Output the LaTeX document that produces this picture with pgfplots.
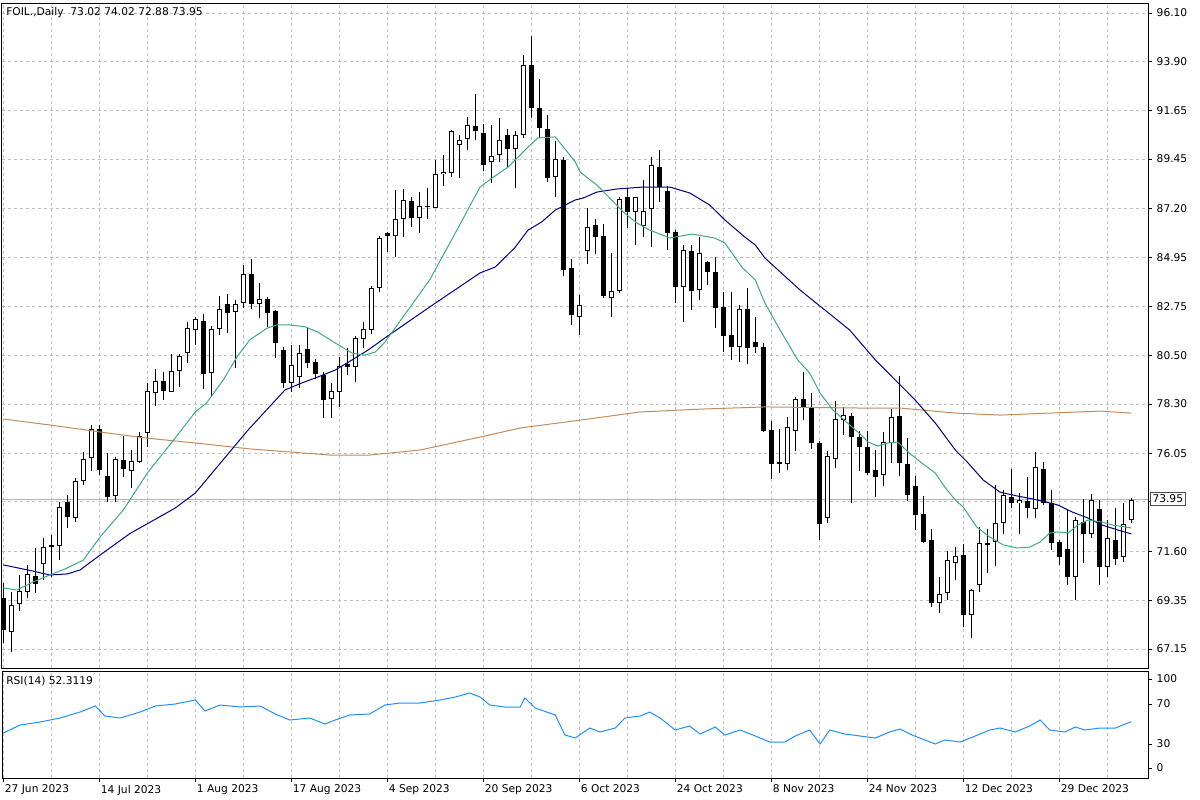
\documentclass[border=0pt]{standalone}
\usepackage{pgfplots}
\pgfplotsset{compat=1.18}
\usepackage{pgfplotstable}
\usepackage{fontspec}
\setmainfont{DejaVu Sans}

\definecolor{gridc}{RGB}{192,192,192}
\definecolor{bidc}{RGB}{180,180,180}
\definecolor{maFast}{RGB}{60,170,130}
\definecolor{maMid}{RGB}{0,0,128}
\definecolor{maSlow}{RGB}{196,140,90}
\definecolor{rsic}{RGB}{30,144,255}

% daily bars: index, open, high, low, close
\pgfplotstableread{
k o h l c
0 69.46 70.14 67.44 68.02
1 67.94 69.76 67.03 69.15
2 69.18 70.52 68.90 69.79
3 69.76 70.97 69.46 70.57
4 70.47 71.73 69.69 70.10
5 71.01 72.19 70.29 71.79
6 71.78 72.34 70.44 71.87
7 71.85 73.86 71.20 73.63
8 73.83 74.16 72.64 73.17
9 73.13 74.92 72.95 74.80
10 74.78 76.13 74.62 75.81
11 75.83 77.35 75.25 77.17
12 77.15 77.33 75.07 75.30
13 75.03 76.06 73.86 74.09
14 74.12 75.91 73.86 75.79
15 75.75 76.85 75.00 75.36
16 75.27 76.21 74.47 75.69
17 75.68 77.04 75.60 76.86
18 76.97 79.24 76.36 78.88
19 78.82 79.88 78.23 79.34
20 79.34 79.75 78.49 78.91
21 78.87 80.56 78.83 79.79
22 79.79 80.56 79.06 80.47
23 80.61 82.05 80.15 81.75
24 81.69 82.28 80.99 82.17
25 82.08 82.40 78.99 79.67
26 79.73 81.85 78.64 81.70
27 81.70 83.22 81.44 82.61
28 82.86 83.31 81.52 82.46
29 82.48 83.04 79.93 82.84
30 82.89 84.63 82.66 84.21
31 84.21 84.89 82.61 82.84
32 82.84 83.80 82.20 83.10
33 83.07 83.19 81.82 82.43
34 82.54 82.60 80.38 81.06
35 80.76 80.91 79.02 79.24
36 79.24 80.99 78.86 80.08
37 79.55 80.99 79.02 80.61
38 80.79 81.75 79.93 80.18
39 80.23 80.34 79.43 79.67
40 79.62 79.77 77.65 78.49
41 78.55 79.24 77.65 78.90
42 78.86 80.46 78.18 80.03
43 80.12 80.84 79.62 79.97
44 79.97 81.40 79.32 81.29
45 81.25 82.02 80.84 81.70
46 81.67 83.67 81.47 83.57
47 83.57 85.95 83.42 85.87
48 86.09 86.15 85.24 85.97
49 85.95 88.04 84.98 86.71
50 86.71 88.10 85.89 87.59
51 87.53 87.71 86.37 86.75
52 86.75 87.94 86.10 87.32
53 87.27 88.12 86.71 87.32
54 87.24 89.41 87.24 88.76
55 88.76 89.64 88.23 88.86
56 88.80 90.78 88.65 90.73
57 90.08 90.55 88.61 90.30
58 90.38 91.35 89.86 90.99
59 90.95 92.41 90.30 90.72
60 90.62 91.03 88.92 89.18
61 89.30 91.00 88.35 89.58
62 89.64 91.30 89.30 90.30
63 90.55 90.80 89.03 89.89
64 89.89 90.73 88.15 90.55
65 90.55 94.19 90.40 93.72
66 93.72 95.05 91.34 91.79
67 91.79 93.10 90.40 90.85
68 90.80 91.46 88.42 88.60
69 88.65 90.27 87.74 89.44
70 89.41 89.56 84.14 84.40
71 84.48 84.89 81.90 82.35
72 82.28 83.26 81.44 82.81
73 85.27 87.21 84.66 86.35
74 86.44 86.71 85.12 85.92
75 85.95 86.48 83.11 83.22
76 83.14 85.16 82.28 83.46
77 83.46 87.74 83.34 87.62
78 87.71 88.12 86.30 87.03
79 87.03 87.74 85.54 87.71
80 86.41 88.50 85.92 87.10
81 87.16 89.56 85.46 89.17
82 89.08 89.86 87.51 88.17
83 88.00 88.23 85.31 86.07
84 86.12 86.22 82.92 83.64
85 83.64 85.54 82.05 85.31
86 85.27 85.54 82.58 83.46
87 83.49 85.92 83.04 85.16
88 84.77 84.80 83.72 84.33
89 84.33 85.01 81.75 82.69
90 82.70 83.42 80.68 81.40
91 81.44 83.42 80.31 80.88
92 80.91 82.81 80.23 82.61
93 82.61 83.57 80.12 80.84
94 81.11 82.25 80.64 80.88
95 80.91 81.06 77.04 77.09
96 77.12 77.53 74.87 75.56
97 75.66 77.16 75.18 75.56
98 75.56 77.73 75.30 77.24
99 77.09 78.64 76.18 78.52
100 78.52 79.77 77.58 78.18
101 78.14 78.79 76.24 76.54
102 76.54 76.62 72.11 72.84
103 73.10 76.18 72.87 75.94
104 75.79 78.44 75.41 77.61
105 77.58 78.18 76.89 77.80
106 77.76 77.91 73.78 76.79
107 76.82 77.07 75.27 76.33
108 76.33 77.09 75.07 75.15
109 75.30 76.21 74.06 75.00
110 75.07 77.04 74.57 76.56
111 76.54 78.06 75.63 77.70
112 77.76 79.58 75.03 75.60
113 75.57 76.74 73.90 74.16
114 74.57 75.03 72.57 73.25
115 73.30 74.12 71.96 72.01
116 72.11 72.60 69.08 69.23
117 69.26 70.44 68.78 69.64
118 69.72 71.61 69.38 71.20
119 71.08 71.81 70.29 71.38
120 71.43 71.93 68.14 68.70
121 68.70 69.87 67.64 69.84
122 70.07 72.69 69.76 71.96
123 71.96 72.60 70.60 71.90
124 72.04 74.62 70.93 72.87
125 72.90 74.39 72.39 74.16
126 74.09 75.33 73.55 73.78
127 73.78 74.24 72.39 73.93
128 73.90 74.97 73.10 73.55
129 73.51 76.13 73.10 75.42
130 75.33 75.68 73.71 73.78
131 73.78 74.39 71.66 71.99
132 72.01 72.11 70.97 71.35
133 71.70 73.48 70.06 70.44
134 70.44 73.17 69.38 73.02
135 72.95 73.96 71.05 72.39
136 72.37 74.21 72.19 73.93
137 73.51 73.93 70.06 70.90
138 70.87 73.02 70.44 72.19
139 72.11 73.55 70.97 71.25
140 71.32 73.81 71.13 72.84
141 73.02 74.02 72.88 73.95
}\candles

\begin{document}
\begin{tikzpicture}[font=\fontsize{8}{9.6}\selectfont]
\path[use as bounding box] (0,0) rectangle (900pt,-600pt);

\pgfplotsset{
  panel/.style={
    scale only axis, width=859.5pt, anchor=north west,
    xmin=-0.1625, xmax=143.09,
    axis line style={line width=0.75pt},
    tick style={black, line width=0.75pt},
    major tick length=3pt,
    tick align=outside,
    grid style={gridc, line width=0.75pt, dash pattern=on 2.25pt off 2.25pt},
    ytick pos=right, yticklabel pos=right,
    /pgf/number format/assume math mode=true,
  },
  eb/.style={only marks, mark=*, mark size=0pt, mark options={draw=none, fill=none}, forget plot,
    error bars/.cd, y dir=both, y explicit, error mark=none,
    error bar style={#1}},
}

% price panel
\begin{axis}[panel, at={(1.5pt,-2.25pt)}, height=498.75pt,
  ymin=66.287, ymax=96.555,
  xtick={0,6,...,138}, xticklabels={}, xtick style={draw=none},
  xmajorgrids, ymajorgrids,
  ytick={67.15,69.35,71.60,73.85,76.05,78.30,80.50,82.75,84.95,87.20,89.45,91.65,93.90,96.10},
  yticklabels={67.15,69.35,71.60,{},76.05,78.30,80.50,82.75,84.95,87.20,89.45,91.65,93.90,96.10},
]
\addplot[bidc, line width=0.75pt, forget plot] coordinates {(-1,73.95) (145,73.95)};

% wicks
\addplot[eb={black, line width=0.75pt}]
  table[x=k, y expr={(\thisrow{h}+\thisrow{l})/2}, y error expr={(\thisrow{h}-\thisrow{l})/2}] {\candles};
% bodies
\addplot[eb={black, line width=3.75pt}]
  table[x=k, y expr={(\thisrow{o}+\thisrow{c})/2}, y error expr={max(abs(\thisrow{c}-\thisrow{o})/2,0.023)}] {\candles};
\addplot[eb={white, line width=2.25pt}]
  table[x=k, y expr={(\thisrow{o}+\thisrow{c})/2}, y error expr={max((\thisrow{c}-\thisrow{o})/2-0.0455,0)}] {\candles};

% moving averages
\addplot[maSlow, line width=0.75pt] coordinates {
(0,77.62) (5.8,77.35) (12.1,77.03) (17.7,76.76) (24,76.53) (30.8,76.26) (35.8,76.12)
(40.8,75.98) (45.8,75.98) (52.1,76.21) (59.6,76.80) (64.6,77.21) (72.1,77.57) (79.6,77.94)
(87.1,78.07) (95.2,78.17) (107.1,78.12) (112.1,78.12) (119,77.89) (124.6,77.80)
(130.8,77.89) (137.1,77.98) (141,77.89)};
\addplot[maMid, line width=0.75pt] coordinates {
(0,70.98) (3.7,70.70) (5.8,70.52) (8,70.57) (9.6,70.75) (12.1,71.43) (15.8,72.40) (21.5,73.57)
(24,74.25) (30.6,77.12) (35.2,78.94) (37.3,79.26) (39.3,79.53) (41.5,79.85) (43.6,80.31)
(45.6,80.76) (47.7,81.31) (53.3,82.72) (58.3,83.95) (59.6,84.27) (61.5,84.54) (63.9,85.40)
(65.6,86.22) (67.3,86.59) (69,87.13) (71.5,87.59) (72.5,87.68) (74.2,87.95) (76.7,88.09)
(80,88.18) (83.3,88.18) (85.8,87.91) (88.3,87.36) (90.2,86.68) (92.7,85.90) (94,85.54)
(95.2,84.95) (99.6,83.49) (105.8,81.67) (109,80.31) (114,78.48) (116.5,77.44) (119,76.21)
(120.5,75.66) (122.5,74.84) (124.6,74.29) (126.7,74.12) (128.7,73.98) (130.8,73.80)
(131.8,73.71) (133.6,73.39) (135.6,73.11) (137.3,72.80) (139.3,72.57) (141,72.39)};
\addplot[maFast, line width=0.75pt] coordinates {
(0,69.93) (1.7,69.84) (3.7,70.20) (5.8,70.52) (8,70.84) (10,71.20) (12.1,72.25) (15,73.48)
(18,75.16) (21,76.53) (24,77.94) (25.4,78.35) (27.5,79.40) (29.2,80.44) (30.8,81.22)
(33,81.76) (34.2,81.90) (35.8,81.90) (37.7,81.82) (39.3,81.58) (41.5,81.08) (43.6,80.62)
(45.2,80.53) (46.5,80.67) (47.7,81.12) (53.3,83.95) (56.7,86.22) (59.6,88.18) (61.1,88.59)
(63.1,89.09) (65.6,90.00) (66.8,90.41) (69,90.46) (71.5,89.32) (72.1,88.86) (74.2,88.27)
(75.8,87.68) (77.5,87.04) (79.2,86.54) (80.8,86.22) (83.3,85.86) (86.1,86.04) (88.9,85.86)
(90.2,85.63) (92.3,84.54) (94,83.95) (95.2,82.90) (97.1,81.67) (99.3,80.31) (100.8,79.71)
(102.1,78.80) (103.7,78.03) (105.8,77.35) (107.1,76.94) (108.1,76.57) (109.3,76.39)
(110.6,76.53) (111.8,76.57) (113.1,76.12) (114.8,75.62) (116.5,75.16) (117.7,74.52)
(119,73.93) (120,73.61) (121.7,72.70) (123.3,72.25) (125,71.89) (126.7,71.75) (128.3,71.79)
(129.6,72.02) (130.8,72.43) (131.8,72.48) (133.1,72.43) (134.3,72.79) (135.6,73.02)
(137.3,72.93) (138.6,72.80) (141,72.66)};
\end{axis}

% RSI panel
\begin{axis}[panel, at={(1.5pt,-503.25pt)}, height=80.25pt,
  ymin=-4, ymax=103,
  ytick={6,30,70,95}, yticklabels={0,30,70,100},
  xtick={0,12,...,132},
  xticklabels={27 Jun 2023,14 Jul 2023,1 Aug 2023,17 Aug 2023,4 Sep 2023,20 Sep 2023,6 Oct 2023,24 Oct 2023,8 Nov 2023,24 Nov 2023,12 Dec 2023,29 Dec 2023},
  xtick pos=bottom,
  xticklabel style={anchor=north west, inner sep=0pt, xshift=1pt, yshift=-2pt},
  minor xtick={6,18,...,138}, minor tick length=0pt,
  xmajorgrids, xminorgrids, minor grid style={gridc, line width=0.75pt, dash pattern=on 2.25pt off 2.25pt},
]
\addplot[rsic, line width=0.75pt] coordinates {
(0,41) (2.1,49) (4.6,52) (7.1,56) (9.6,62) (11.5,68) (12.7,58) (14.6,56) (17.1,62) (19,68)
(21.5,70) (24,74) (25.2,63) (27.1,69) (29.6,67) (32.1,68) (34,60) (35.8,54) (38.3,56) (40.2,50)
(41.5,54) (43.3,59) (45.8,60) (47.7,69) (49.6,71) (52.1,71) (54.6,74) (56.5,77) (58.3,81)
(59.6,77) (60.8,69) (62.7,67) (64.6,67) (65.2,76) (66.5,66) (69,59) (70.2,39) (71.5,36)
(73.3,46) (74.6,42) (76.5,46) (77.7,56) (79.6,58) (80.8,62) (82.1,56) (84,44) (85.8,48)
(87.1,40) (89,47) (90.2,39) (92.1,44) (94,38) (95.8,32) (97.7,32) (99,38) (100.8,44)
(102.1,30) (103.3,44) (105.2,40) (107.1,38) (109,36) (110.8,42) (112.1,45) (113.6,39)
(115.2,34) (116.5,30) (117.7,34) (119.6,32) (121.5,38) (123.3,44) (124.6,46) (126.5,42)
(128.3,48) (129.6,54) (130.8,44) (132.7,42) (134,47) (135.2,44) (137.1,46) (139,46) (141,52.3)};
\end{axis}

\node[anchor=west, inner sep=0pt] at (4.5pt,-9.75pt) {FOIL.,Daily\ \ 73.02 74.02 72.88 73.95};
\node[anchor=west, inner sep=0pt] at (4.5pt,-510.75pt) {RSI(14) 52.3119};
\node[draw=black!70, fill=white, line width=0.75pt, inner sep=1.5pt, anchor=west] at (862.5pt,-374.25pt) {73.95};
\end{tikzpicture}
\end{document}
